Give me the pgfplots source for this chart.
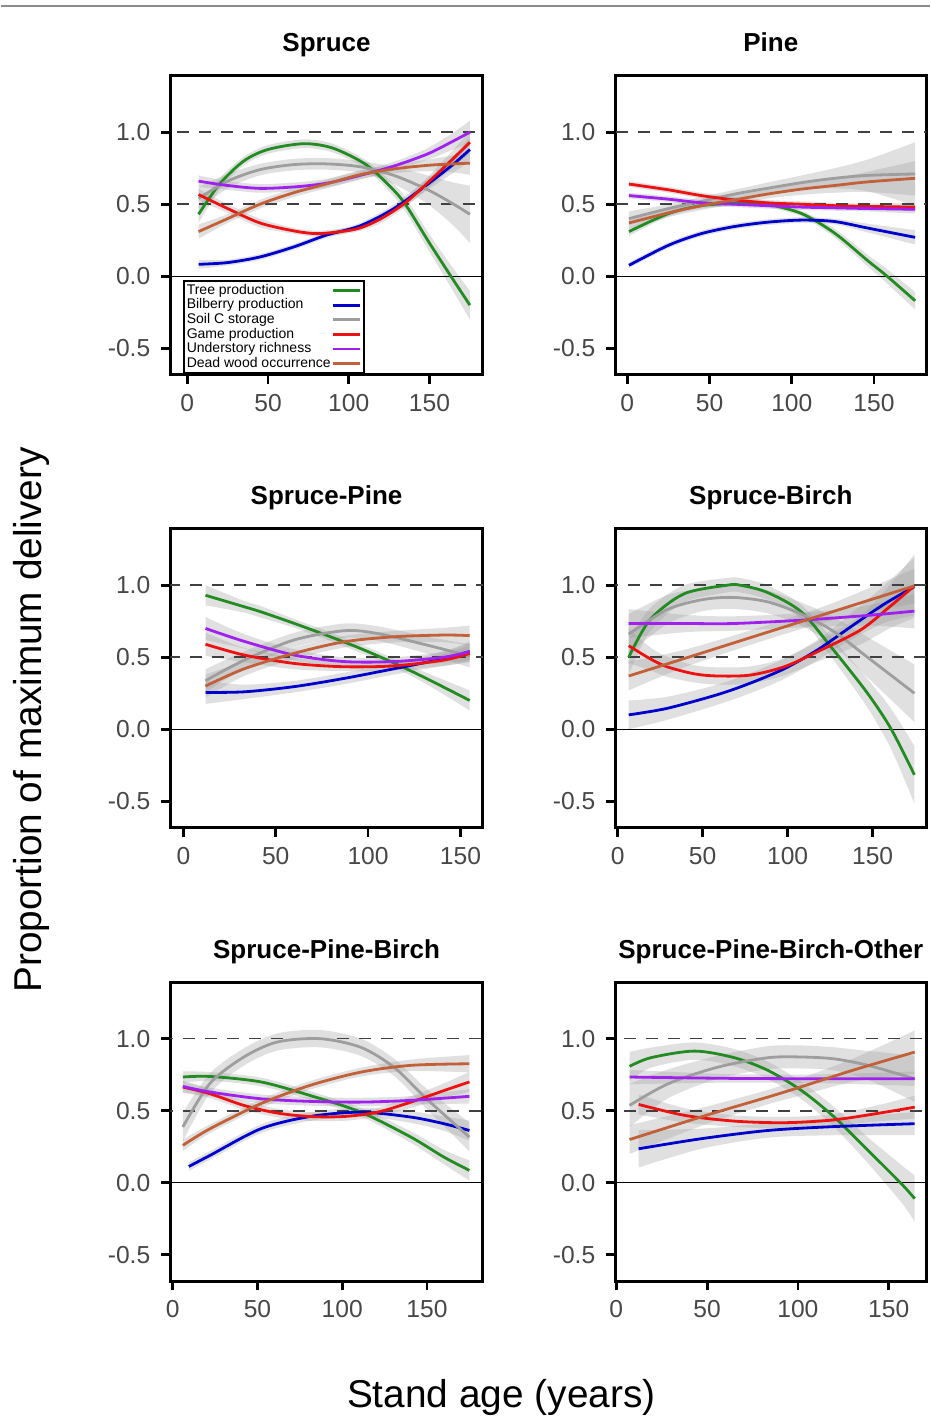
\documentclass[border=0pt]{standalone}
\usepackage{fontspec}
\setmainfont{Liberation Sans}
\usepackage{pgfplots}
\pgfplotsset{compat=1.18}
\usepackage{pgfplotstable}
\usepgfplotslibrary{fillbetween}

\definecolor{cTree}{HTML}{228B22}
\definecolor{cBil}{HTML}{0000CD}
\definecolor{cSoil}{HTML}{9E9E9E}
\definecolor{cGame}{HTML}{EE1111}
\definecolor{cUnd}{HTML}{A020F0}
\definecolor{cDead}{HTML}{C2603A}

% ---------------- Spruce ----------------
\pgfplotstableread{
x y w
7 0.43 0.06
20 0.64 0.04
35 0.80 0.03
50 0.88 0.03
72 0.92 0.03
90 0.89 0.03
110 0.78 0.03
125 0.63 0.04
135 0.50 0.05
150 0.23 0.06
165 -0.03 0.08
175 -0.20 0.10
}\tAa
\pgfplotstableread{
x y w
7 0.083 0.03
25 0.095 0.02
45 0.134 0.02
66 0.204 0.02
86 0.285 0.02
107 0.35 0.02
128 0.47 0.03
149 0.64 0.04
165 0.78 0.06
175 0.88 0.08
}\tAb
\pgfplotstableread{
x y w
7 0.54 0.08
25 0.66 0.05
45 0.74 0.04
66 0.775 0.04
86 0.78 0.04
107 0.76 0.04
128 0.70 0.06
149 0.60 0.10
165 0.50 0.15
175 0.43 0.20
}\tAc
\pgfplotstableread{
x y w
7 0.567 0.04
25 0.47 0.03
45 0.37 0.03
66 0.315 0.02
80 0.296 0.02
95 0.31 0.02
107 0.335 0.02
120 0.40 0.03
135 0.51 0.03
149 0.65 0.04
165 0.82 0.06
175 0.93 0.08
}\tAd
\pgfplotstableread{
x y w
7 0.66 0.04
25 0.63 0.03
45 0.61 0.03
66 0.62 0.03
86 0.645 0.03
107 0.70 0.03
128 0.765 0.03
149 0.85 0.04
165 0.94 0.06
175 1.00 0.08
}\tAe
\pgfplotstableread{
x y w
7 0.31 0.05
25 0.40 0.03
45 0.50 0.03
66 0.58 0.03
86 0.64 0.03
107 0.705 0.03
128 0.745 0.03
149 0.77 0.04
165 0.78 0.06
175 0.785 0.08
}\tAf

% ---------------- Pine ----------------
\pgfplotstableread{
x y w
1 0.31 0.03
25 0.435 0.02
45 0.49 0.02
70 0.51 0.02
85 0.50 0.02
106 0.435 0.02
126 0.30 0.03
146 0.11 0.04
158 0.00 0.05
175 -0.17 0.06
}\tBa
\pgfplotstableread{
x y w
1 0.076 0.02
25 0.215 0.02
45 0.296 0.02
65 0.345 0.02
85 0.375 0.02
106 0.39 0.02
126 0.38 0.02
146 0.335 0.03
175 0.27 0.05
}\tBb
\pgfplotstableread{
x y w
1 0.40 0.05
25 0.47 0.03
45 0.52 0.03
65 0.57 0.03
85 0.61 0.04
106 0.65 0.05
126 0.68 0.07
146 0.70 0.11
175 0.71 0.22
}\tBc
\pgfplotstableread{
x y w
1 0.64 0.02
25 0.60 0.02
45 0.56 0.02
65 0.53 0.02
85 0.51 0.02
106 0.50 0.02
126 0.49 0.02
146 0.485 0.02
175 0.48 0.03
}\tBd
\pgfplotstableread{
x y w
1 0.56 0.02
25 0.535 0.02
45 0.51 0.02
65 0.50 0.02
85 0.49 0.02
106 0.48 0.02
126 0.475 0.02
146 0.47 0.02
175 0.465 0.03
}\tBe
\pgfplotstableread{
x y w
1 0.37 0.04
25 0.44 0.03
45 0.49 0.03
65 0.53 0.03
85 0.57 0.03
106 0.605 0.04
126 0.63 0.05
146 0.655 0.07
175 0.68 0.12
}\tBf

% ---------------- Spruce-Pine ----------------
\pgfplotstableread{
x y w
12 0.93 0.07
33 0.85 0.04
42 0.815 0.04
60 0.735 0.03
78 0.65 0.03
96 0.56 0.03
114 0.46 0.03
132 0.35 0.04
155 0.20 0.07
}\tCa
\pgfplotstableread{
x y w
12 0.256 0.08
33 0.26 0.05
60 0.296 0.04
87 0.353 0.04
114 0.42 0.04
141 0.49 0.05
155 0.54 0.07
}\tCb
\pgfplotstableread{
x y w
12 0.337 0.08
33 0.48 0.06
60 0.62 0.05
87 0.684 0.05
105 0.665 0.05
132 0.584 0.06
155 0.508 0.08
}\tCc
\pgfplotstableread{
x y w
12 0.59 0.08
33 0.515 0.05
60 0.457 0.04
87 0.434 0.03
114 0.44 0.03
141 0.48 0.04
155 0.527 0.06
}\tCd
\pgfplotstableread{
x y w
12 0.70 0.08
33 0.61 0.05
60 0.515 0.04
87 0.47 0.03
114 0.47 0.03
141 0.50 0.04
155 0.54 0.06
}\tCe
\pgfplotstableread{
x y w
12 0.30 0.08
33 0.42 0.05
60 0.527 0.04
87 0.607 0.04
114 0.642 0.04
141 0.654 0.05
155 0.65 0.07
}\tCf

% ---------------- Spruce-Birch ----------------
\pgfplotstableread{
x y w
6.5 0.50 0.12
19 0.76 0.08
39 0.94 0.06
64.5 1.00 0.05
72 1.00 0.05
88 0.95 0.05
108 0.815 0.05
127 0.55 0.07
147 0.25 0.10
161 0.00 0.14
174.6 -0.316 0.20
}\tDa
\pgfplotstableread{
x y w
6.5 0.10 0.10
29 0.145 0.08
58.6 0.24 0.07
78 0.32 0.07
98 0.42 0.07
117.5 0.55 0.07
137 0.71 0.09
157 0.87 0.13
174.6 0.99 0.20
}\tDb
\pgfplotstableread{
x y w
6.5 0.66 0.14
29 0.83 0.10
50 0.90 0.08
68 0.915 0.08
88 0.885 0.08
108 0.80 0.08
127 0.68 0.10
147 0.50 0.14
174.6 0.25 0.20
}\tDc
\pgfplotstableread{
x y w
6.5 0.58 0.12
19 0.49 0.08
29 0.434 0.07
45 0.385 0.06
58.6 0.37 0.06
78 0.376 0.06
98 0.434 0.06
117.5 0.538 0.07
143 0.69 0.10
160 0.85 0.15
174.6 0.995 0.22
}\tDd
\pgfplotstableread{
x y w
6.5 0.734 0.10
40 0.734 0.06
68 0.734 0.05
108 0.757 0.05
147 0.79 0.07
174.6 0.82 0.12
}\tDe
\pgfplotstableread{
x y w
6.5 0.37 0.10
40 0.494 0.06
88 0.673 0.05
127 0.818 0.06
174.6 0.995 0.12
}\tDf

% ---------------- Spruce-Pine-Birch ----------------
\pgfplotstableread{
x y w
6 0.734 0.04
22 0.738 0.03
52 0.70 0.03
81 0.606 0.03
111 0.49 0.03
140.5 0.317 0.04
160 0.178 0.05
175 0.086 0.07
}\tEa
\pgfplotstableread{
x y w
9.5 0.113 0.03
22 0.19 0.03
52 0.375 0.03
81 0.46 0.03
111 0.49 0.03
140.5 0.456 0.04
160 0.41 0.05
175 0.363 0.07
}\tEb
\pgfplotstableread{
x y w
6 0.387 0.10
22 0.69 0.07
42 0.873 0.06
61.7 0.977 0.06
87 1.00 0.06
111 0.94 0.06
130.7 0.80 0.06
150 0.58 0.07
175 0.317 0.10
}\tEc
\pgfplotstableread{
x y w
6 0.664 0.04
22 0.618 0.03
42 0.537 0.03
61.7 0.484 0.03
81 0.46 0.03
101 0.46 0.03
120.8 0.49 0.03
140.5 0.56 0.04
160 0.64 0.05
175 0.70 0.07
}\tEd
\pgfplotstableread{
x y w
6 0.669 0.04
22 0.63 0.03
52 0.583 0.03
81 0.565 0.03
111 0.56 0.03
140.5 0.572 0.03
175 0.60 0.05
}\tEe
\pgfplotstableread{
x y w
6 0.26 0.04
22 0.375 0.03
52 0.549 0.03
81 0.676 0.03
111 0.768 0.03
140.5 0.815 0.04
175 0.826 0.06
}\tEf

% ---------------- Spruce-Pine-Birch-Other ----------------
\pgfplotstableread{
x y w
7.3 0.808 0.10
19 0.868 0.07
43 0.914 0.06
65 0.868 0.06
83.5 0.78 0.06
102 0.64 0.06
120 0.456 0.07
138.6 0.225 0.09
157 -0.007 0.13
164.3 -0.11 0.16
}\tFa
\pgfplotstableread{
x y w
12.3 0.236 0.13
46.8 0.306 0.07
83.5 0.363 0.05
120 0.39 0.06
164.3 0.41 0.08
}\tFb
\pgfplotstableread{
x y w
7.3 0.537 0.15
28.5 0.687 0.10
56 0.803 0.08
83.5 0.868 0.08
102 0.873 0.08
120 0.86 0.08
138.6 0.815 0.10
164.3 0.722 0.16
}\tFc
\pgfplotstableread{
x y w
12.3 0.544 0.07
37.6 0.468 0.05
65 0.428 0.04
92.7 0.417 0.04
120 0.437 0.04
148 0.49 0.06
164.3 0.525 0.08
}\tFd
\pgfplotstableread{
x y w
7.3 0.734 0.05
60 0.725 0.03
110 0.722 0.03
164.3 0.722 0.05
}\tFe
\pgfplotstableread{
x y w
7.3 0.30 0.10
50 0.47 0.06
83.5 0.595 0.05
102 0.667 0.06
130 0.78 0.08
164.3 0.907 0.15
}\tFf

\pgfplotsset{
  panel/.style={
    scale only axis, anchor=south west, height=149.5pt,
    ymin=-0.685, ymax=1.39,
    ytick={-0.5,0,0.5,1}, yticklabels={-0.5,0.0,0.5,1.0},
    xtick={0,50,100,150}, xticklabels={0,50,100,150},
    tick pos=left, tick align=outside,
    major tick length=4.5pt,
    tick style={black, line width=1.4pt},
    axis line style={line width=1.5pt},
    tick label style={font=\fontsize{12.3}{12.3}\selectfont, text=black!72},
    xticklabel style={yshift=-1.5pt},
    yticklabel style={xshift=-2pt},
    title style={font=\bfseries\fontsize{13}{13}\selectfont, at={(0.5,1)}, anchor=base, yshift=6pt},
  },
}

\newcommand{\refl}{%
  \addplot[black!75, line width=0.8pt, dash pattern=on 6pt off 5pt, forget plot] coordinates {(-20,1) (200,1)};
  \addplot[black!75, line width=0.8pt, dash pattern=on 6pt off 5pt, forget plot] coordinates {(-20,0.5) (200,0.5)};
  \addplot[black, line width=0.6pt, forget plot] coordinates {(-20,0) (200,0)};
}
\newcommand{\band}[3]{%
  \addplot[name path=u#3, draw=none, smooth, forget plot] table[x=x, y expr=\thisrow{y}+\thisrow{w}] {#1};
  \addplot[name path=l#3, draw=none, smooth, forget plot] table[x=x, y expr=\thisrow{y}-\thisrow{w}] {#1};
  \addplot[fill=black!40, fill opacity=0.3, draw=none, forget plot] fill between[of=u#3 and l#3];
  \addplot[#2, line width=1.4pt, smooth] table[x=x, y=y] {#1};
}

\begin{document}
\begin{tikzpicture}
\path (0,0) rectangle (464.5pt,711.5pt);
\draw[black!45, line width=0.8pt] (0,708.5pt) -- (464.5pt,708.5pt);

% Spruce
\begin{axis}[panel, at={(84.75pt,524pt)}, width=156.25pt, xmin=-10.5, xmax=183, title={Spruce},
  legend plot pos=right,
  legend cell align=left,
  legend image code/.code={\draw[#1, line width=1.4pt] (0pt,0pt) -- (13.5pt,0pt);},
  legend style={at={(0.04,0.318)}, anchor=north west, draw=black, line width=1pt,
    font=\fontsize{7}{7}\selectfont, inner sep=1.2pt, row sep=0pt,
    nodes={inner sep=0.3pt, text height=5.2pt, text depth=1.5pt},
    /tikz/every even column/.append style={column sep=1pt}},
]
\refl
\band{\tAa}{cTree}{Aa}\addlegendentry{Tree production}
\band{\tAb}{cBil}{Ab}\addlegendentry{Bilberry production}
\band{\tAc}{cSoil}{Ac}\addlegendentry{Soil C storage}
\band{\tAd}{cGame}{Ad}\addlegendentry{Game production}
\band{\tAe}{cUnd}{Ae}\addlegendentry{Understory richness}
\band{\tAf}{cDead}{Af}\addlegendentry{Dead wood occurrence}
\end{axis}

% Pine
\begin{axis}[panel, at={(307.25pt,524pt)}, width=155.5pt, xmin=-7.3, xmax=181.8, title={Pine}]
\refl
\band{\tBa}{cTree}{Ba}
\band{\tBb}{cBil}{Bb}
\band{\tBc}{cSoil}{Bc}
\band{\tBd}{cGame}{Bd}
\band{\tBe}{cUnd}{Be}
\band{\tBf}{cDead}{Bf}
\end{axis}

% Spruce-Pine
\begin{axis}[panel, at={(84.75pt,297.5pt)}, width=156.25pt, xmin=-7.06, xmax=162.1, title={Spruce-Pine}]
\refl
\band{\tCa}{cTree}{Ca}
\band{\tCb}{cBil}{Cb}
\band{\tCc}{cSoil}{Cc}
\band{\tCd}{cGame}{Cd}
\band{\tCe}{cUnd}{Ce}
\band{\tCf}{cDead}{Cf}
\end{axis}

% Spruce-Birch
\begin{axis}[panel, at={(307.25pt,297.5pt)}, width=155.5pt, xmin=-1.4, xmax=181.6, title={Spruce-Birch}]
\refl
\band{\tDa}{cTree}{Da}
\band{\tDb}{cBil}{Db}
\band{\tDc}{cSoil}{Dc}
\band{\tDd}{cGame}{Dd}
\band{\tDe}{cUnd}{De}
\band{\tDf}{cDead}{Df}
\end{axis}

% Spruce-Pine-Birch
\begin{axis}[panel, at={(84.75pt,70.75pt)}, width=156.25pt, xmin=-1.4, xmax=182.9, title={Spruce-Pine-Birch}]
\refl
\band{\tEa}{cTree}{Ea}
\band{\tEb}{cBil}{Eb}
\band{\tEc}{cSoil}{Ec}
\band{\tEd}{cGame}{Ed}
\band{\tEe}{cUnd}{Ee}
\band{\tEf}{cDead}{Ef}
\end{axis}

% Spruce-Pine-Birch-Other
\begin{axis}[panel, at={(307.25pt,70.75pt)}, width=155.5pt, xmin=-0.55, xmax=170.7, title={Spruce-Pine-Birch-Other}]
\refl
\band{\tFa}{cTree}{Fa}
\band{\tFb}{cBil}{Fb}
\band{\tFc}{cSoil}{Fc}
\band{\tFd}{cGame}{Fd}
\band{\tFe}{cUnd}{Fe}
\band{\tFf}{cDead}{Ff}
\end{axis}

\node[anchor=base, inner sep=0pt, font=\fontsize{19.4}{19.4}\selectfont] at (250.25pt,8pt) {Stand age (years)};
\node[anchor=base, rotate=90, inner sep=0pt, font=\fontsize{19.4}{19.4}\selectfont] at (20.5pt,351.5pt) {Proportion of maximum delivery};
\end{tikzpicture}
\end{document}
